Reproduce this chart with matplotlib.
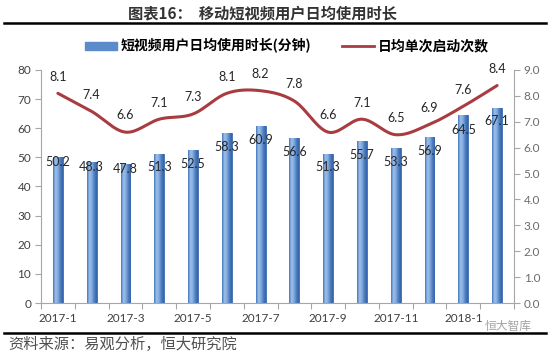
import numpy as np
import matplotlib.pyplot as plt
from matplotlib.lines import Line2D
from matplotlib.patches import Patch
from matplotlib.colors import LinearSegmentedColormap

plt.rcParams['font.family'] = ['Noto Sans CJK SC', 'DejaVu Sans']

months = ['2017-1', '2017-2', '2017-3', '2017-4', '2017-5', '2017-6', '2017-7',
          '2017-8', '2017-9', '2017-10', '2017-11', '2017-12', '2018-1', '2018-2']
minutes = [50.2, 48.3, 47.8, 51.3, 52.5, 58.3, 60.9, 56.6, 51.3, 55.7, 53.3, 56.9, 64.5, 67.1]
launches = [8.1, 7.4, 6.6, 7.1, 7.3, 8.1, 8.2, 7.8, 6.6, 7.1, 6.5, 6.9, 7.6, 8.4]

# label offsets inside the bars (points below the bar top)
bar_label_dy = [-3.5, -3.5, -3.5, -10, -10, -10, -10, -10, -10, -10, -10, -10, -11, -10]

BAR_NAME = '短视频用户日均使用时长(分钟)'
LINE_NAME = '日均单次启动次数'
LINE_C = '#A93C40'
AX_C = '#A6A6A6'
TXT_C = '#404040'
NUM_FONT = ['Lato', 'DejaVu Sans']


#
# Excel-style smoothed line (Catmull-Rom bezier through the points)
#
def smooth(x, y, n=20):
    x = np.asarray(x, float)
    y = np.asarray(y, float)
    px = np.concatenate([[x[0]], x, [x[-1]]])
    py = np.concatenate([[y[0]], y, [y[-1]]])
    xs, ys = [], []
    t = np.linspace(0, 1, n)
    for i in range(1, len(px) - 2):
        p0 = np.array([px[i], py[i]])
        p3 = np.array([px[i + 1], py[i + 1]])
        c1 = p0 + (np.array([px[i + 1], py[i + 1]]) - np.array([px[i - 1], py[i - 1]])) / 6
        c2 = p3 - (np.array([px[i + 2], py[i + 2]]) - np.array([px[i], py[i]])) / 6
        b = ((1 - t) ** 3)[:, None] * p0 + (3 * (1 - t) ** 2 * t)[:, None] * c1 \
            + (3 * (1 - t) * t ** 2)[:, None] * c2 + (t ** 3)[:, None] * p3
        xs.extend(b[:, 0])
        ys.extend(b[:, 1])
    return np.array(xs), np.array(ys)


fig = plt.figure(figsize=(5.5, 3.53), dpi=100)
ax = fig.add_axes([41 / 550, 1 - 303 / 353, 473 / 550, 233 / 353])
ax2 = ax.twinx()

x = np.arange(len(months))
bars = ax.bar(x, minutes, width=0.29, color='#5B8BCB', edgecolor='#3A6AAE', linewidth=0.6, zorder=2)

# horizontal gradient on each bar
grad = np.linspace(0, 1, 64).reshape(1, -1)
cmap = LinearSegmentedColormap.from_list('bar', ['#4576BA', '#9DC0EA', '#82AADF', '#4C7CC0', '#3563A6'])
for b in bars:
    im = ax.imshow(grad, cmap=cmap, aspect='auto', zorder=2.5,
                   extent=[b.get_x(), b.get_x() + b.get_width(), 0, b.get_height()])
    im.set_clip_path(b)

for xi, v, dy in zip(x, minutes, bar_label_dy):
    ax.annotate(f'{v:.1f}', (xi, v), xytext=(0, dy), textcoords='offset points',
                ha='center', va='center', fontsize=9, color='#262626', zorder=5,
                family=NUM_FONT)

sx, sy = smooth(x, launches)
ax2.plot(sx, sy, color=LINE_C, lw=2.2, zorder=4, solid_capstyle='round')
for xi, v in zip(x, launches):
    ax2.annotate(f'{v:.1f}', (xi, v), xytext=(0, 12), textcoords='offset points',
                 ha='center', va='center', fontsize=9, color='#262626', family=NUM_FONT)

ax.set_xlim(-0.5, len(months) - 0.5)
ax.set_ylim(0, 80)
ax2.set_ylim(0, 9)
ax.set_yticks(np.arange(0, 81, 10))
ax2.set_yticks(np.arange(0, 10, 1))
ax2.set_yticklabels([f'{v:.1f}' for v in range(10)])

ax.set_xticks(x[::2])
ax.set_xticklabels(months[::2])
ax.set_xticks(np.arange(len(months) + 1) - 0.5, minor=True)
ax.tick_params(axis='x', which='major', length=0, pad=7, labelsize=8.5, labelcolor=TXT_C)
ax.tick_params(axis='x', which='minor', length=4, color=AX_C, width=0.8)
ax.tick_params(axis='y', length=4, color=AX_C, width=0.8, labelsize=8.5, labelcolor=TXT_C, pad=3)
ax2.tick_params(axis='y', length=4, color=AX_C, width=0.8, labelsize=8.5, labelcolor='#6b6b6b', pad=3)
for lbl in ax.get_xticklabels() + ax.get_yticklabels() + ax2.get_yticklabels():
    lbl.set_family(NUM_FONT)

for a in (ax, ax2):
    a.spines['top'].set_visible(False)
    for s in ('left', 'right', 'bottom'):
        a.spines[s].set_color(AX_C)
        a.spines[s].set_linewidth(0.8)
ax.spines['right'].set_visible(False)
ax2.spines['left'].set_visible(False)
ax2.spines['bottom'].set_visible(False)

# title, rules, legend, source
fig.text(0.478, 1 - 13 / 353, '图表16：  移动短视频用户日均使用时长', ha='center', va='center',
         fontsize=11, fontweight='bold', color='#333333')
fig.add_artist(Line2D([4 / 550, 546 / 550], [1 - 23 / 353] * 2, color='black', lw=1.8))
fig.add_artist(Line2D([4 / 550, 546 / 550], [1 - 333 / 353] * 2, color='black', lw=1.8))

handles = [Patch(facecolor='#5B8BCB', edgecolor='#5B8BCB'),
           Line2D([0], [0], color=LINE_C, lw=2)]
fig.legend(handles, [BAR_NAME, LINE_NAME], loc='center', bbox_to_anchor=(0.522, 1 - 46 / 353),
           ncol=2, frameon=False, handlelength=2.3, handleheight=0.5, handletextpad=0.3,
           columnspacing=2.2, prop={'size': 10, 'weight': 'bold'})

fig.text(8 / 550, 1 - 344 / 353, '资料来源：易观分析，恒大研究院', ha='left', va='center',
         fontsize=11, color='#505050', style='italic')
fig.text(508 / 550, 1 - 326 / 353, '恒大智库', ha='center', va='center',
         fontsize=8.5, color='#8c8c8c', alpha=0.8)

fig.savefig('out.png', dpi=100)
